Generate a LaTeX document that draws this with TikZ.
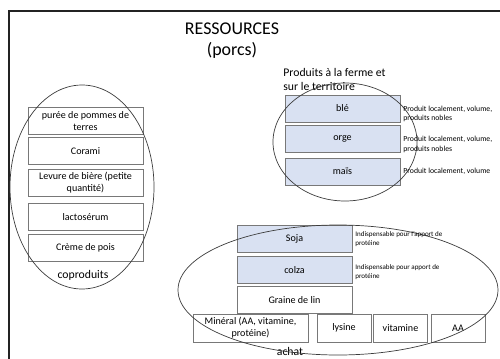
\documentclass[tikz,border=0pt]{standalone}
\usepackage{fontspec}
\setmainfont{Carlito}
\usepackage{xcolor}
\usetikzlibrary{positioning, calc}
\definecolor{boxgrey}{RGB}{120,120,120}
\definecolor{grainblue}{RGB}{217,225,242}
\definecolor{ringgrey}{RGB}{60,60,60}
\definecolor{framegrey}{RGB}{35,35,35}
\def\pxl{0.03cm}
\def\boxStroke{0.8pt}
\def\ringStroke{0.6pt}
\def\frameStroke{1.6pt}

\begin{document}
\begin{tikzpicture}[x=0.03cm, y=-0.03cm,
  every node/.style={inner sep=1pt},
  res/.style={draw=boxgrey, line width=\boxStroke, fill=white, align=center,
    minimum width=115*\pxl, minimum height=27*\pxl,
    font=\fontsize{8.6}{10.4}\selectfont},
  grain/.style={res, fill=grainblue},
  small/.style={res, minimum width=54*\pxl, minimum height=28*\pxl},
  note/.style={anchor=west, align=left, font=\fontsize{6}{7.6}\selectfont},
  tag/.style={font=\fontsize{10}{12}\selectfont},
  ring/.style={draw=ringgrey, line width=\ringStroke}]

% Page and frame
\useasboundingbox (0,0) rectangle (500,358);
\draw[framegrey, line width=\frameStroke] (9,380) -- (9,11) -- (520,11);

% Title
\node[font=\fontsize{15.3}{18}\selectfont, align=center] (title) at (232,41)
  {RESSOURCES\\(porcs)};

% --- Coproduits (left) ---
\node[res] (puree) at (85.5,121) {purée de pommes de\\terres};
\node[res] (corami) at (85.5,151) {Corami};
\node[res] (levure) at (85.5,182.5) {Levure de bière (petite\\quantité)};
\node[res] (lacto) at (85.5,217) {lactosérum};
\node[res] (creme) at (85.5,247.5) {Crème de pois};
\node[tag] (copro) at (83,275) {coproduits};
\draw[ring] (82,187) ellipse [x radius=72*\pxl, y radius=102*\pxl];

% --- Produits a la ferme (top right) ---
\node[anchor=west, align=left, font=\fontsize{10}{11.2}\selectfont] (ferme)
  at (282,79.5) {Produits à la ferme et\\sur le territoire};
\node[grain] (ble) at (342.5,108.5) {blé};
\node[grain] (orge) at (342.5,138.5) {orge};
\node[grain] (mais) at (342.5,171.5) {maïs};
\draw[ring] (345,142) ellipse [x radius=72*\pxl, y radius=59*\pxl];
\node[note, font=\fontsize{6.6}{8}\selectfont] (noteble) at (402,114)
  {Produit localement, volume,\\produits nobles};
\node[note, font=\fontsize{6.6}{8}\selectfont] (noteorge) at (402,144.5)
  {Produit localement, volume,\\produits nobles};
\node[note, font=\fontsize{6.6}{8}\selectfont] (notemais) at (402,171)
  {Produit localement, volume};

% --- Achat (bottom) ---
\node[grain] (soja) at (294.5,238.5) {Soja};
\node[grain] (colza) at (294.5,270) {colza};
\node[res] (lin) at (294.5,300) {Graine de lin};
\node[res, minimum width=115*\pxl, minimum height=28*\pxl] (mineral) at (250.5,328)
  {Minéral (AA, vitamine,\\protéine)};
\node[small] (lysine) at (344,328) {lysine};
\node[small] (vitamine) at (400.5,328) {vitamine};
\node[small] (aa) at (458,328) {AA};
\node[tag] (achat) at (290,351) {achat};
\draw[ring] (338,290) ellipse [x radius=160*\pxl, y radius=65*\pxl];
\node[note] (notesoja) at (354,239.5) {Indispensable pour l'apport de\\protéine};
\node[note] (notecolza) at (354,272.5) {Indispensable pour apport de\\protéine};

\end{tikzpicture}
\end{document}
